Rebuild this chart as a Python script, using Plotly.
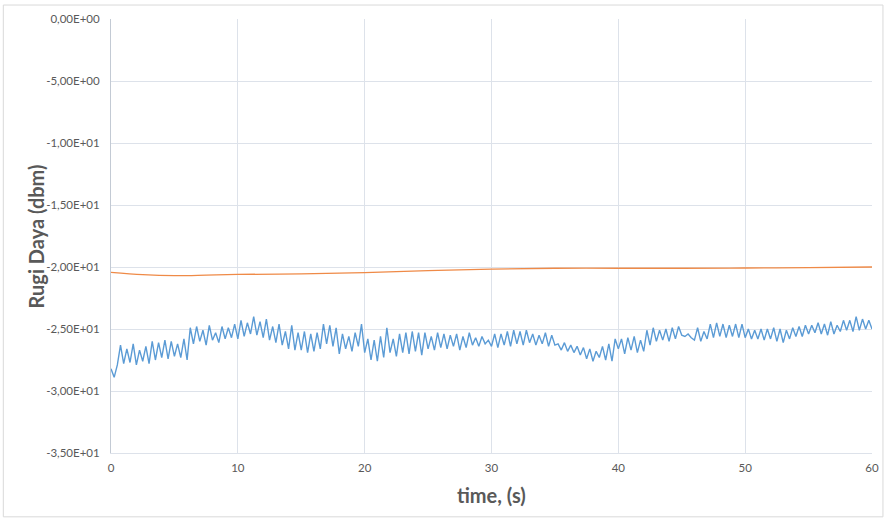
import plotly.graph_objects as go

# Time axis for the measured (blue) trace: 0.25 s steps from 0 to 60 s
blue_step = 0.25
blue_values = [
    # 0 - 5 s
    -28.2, -28.9, -27.9, -26.3, -27.8, -26.6, -27.7, -26.2, -27.9, -26.7,
    -27.6, -26.4, -27.8, -26.0, -27.5, -26.1, -27.3, -25.9, -27.4, -26.0,
    # 5 - 10 s
    -27.2, -26.2, -27.3, -25.8, -27.5, -24.9, -26.2, -24.8, -26.0, -25.1,
    -26.3, -24.7, -25.9, -25.3, -26.1, -24.8, -25.8, -24.9, -25.7, -24.6,
    # 10 - 15 s
    -25.8, -24.3, -25.6, -24.5, -25.4, -24.0, -25.5, -24.4, -25.7, -24.2,
    -25.9, -24.8, -26.1, -24.6, -26.3, -25.2, -26.6, -24.7, -26.7, -25.3,
    # 15 - 20 s
    -26.7, -25.2, -26.9, -25.4, -26.8, -25.3, -26.6, -24.6, -26.2, -24.7,
    -26.4, -24.9, -27.0, -25.4, -26.6, -25.6, -26.8, -25.3, -26.4, -24.6,
    # 20 - 25 s
    -26.9, -25.8, -27.5, -25.9, -27.6, -25.6, -27.3, -24.9, -26.9, -25.8,
    -27.2, -25.4, -26.9, -25.3, -27.0, -25.2, -26.8, -25.3, -27.1, -25.3,
    # 25 - 30 s
    -26.6, -25.6, -26.7, -25.3, -26.5, -25.4, -26.6, -25.5, -26.4, -25.4,
    -26.7, -25.6, -26.5, -25.3, -26.3, -25.7, -26.4, -25.6, -26.2, -25.9,
    # 30 - 35 s
    -26.4, -25.4, -26.5, -25.4, -26.3, -25.2, -26.4, -25.1, -26.2, -25.2,
    -26.3, -25.1, -26.1, -25.4, -26.3, -25.5, -26.2, -25.3, -26.4, -25.5,
    # 35 - 40 s
    -26.3, -26.2, -26.7, -26.1, -26.8, -26.3, -26.9, -26.4, -27.1, -26.5,
    -27.4, -26.6, -27.6, -26.8, -27.3, -26.4, -27.5, -26.2, -27.6, -25.8,
    # 40 - 45 s
    -26.6, -25.8, -27.0, -25.7, -26.7, -25.6, -26.9, -25.9, -26.8, -25.1,
    -26.3, -24.9, -26.0, -25.1, -25.9, -25.0, -26.0, -24.9, -25.8, -24.8,
    # 45 - 50 s
    -25.5, -25.6, -25.4, -25.7, -25.9, -24.9, -26.0, -25.2, -25.8, -24.6,
    -25.7, -24.5, -25.6, -24.6, -25.7, -24.7, -25.6, -24.6, -25.7, -24.6,
    # 50 - 55 s
    -25.7, -25.0, -25.8, -25.1, -25.8, -25.0, -25.9, -25.0, -25.8, -24.9,
    -26.0, -25.0, -26.1, -25.1, -25.8, -24.9, -25.6, -24.8, -25.6, -24.7,
    # 55 - 60 s
    -25.4, -24.7, -25.3, -24.5, -25.4, -24.6, -25.5, -24.4, -25.4, -24.7,
    -25.2, -24.3, -25.1, -24.3, -25.2, -24.0, -25.1, -24.2, -25.0, -24.3,
    # 60 s
    -25.0,
]
blue_time = [i * blue_step for i in range(len(blue_values))]

# Reference (orange) trace, sampled every 2.5 - 5 s
orange_time = [0, 2.5, 5, 7.5, 10, 15, 20, 25, 30, 35, 40, 45, 50, 55, 60]
orange_values = [-20.44, -20.62, -20.7, -20.66, -20.6, -20.55, -20.45, -20.3,
                 -20.17, -20.1, -20.1, -20.1, -20.08, -20.05, -20.0]

y_ticks = [0, -5, -10, -15, -20, -25, -30, -35]
y_tick_labels = ["0,00E+00", "-5,00E+00", "-1,00E+01", "-1,50E+01",
                 "-2,00E+01", "-2,50E+01", "-3,00E+01", "-3,50E+01"]
x_ticks = [0, 10, 20, 30, 40, 50, 60]

FONT = "Lato, 'Open Sans', sans-serif"
TEXT = "#595959"
GRID = "#dde2ea"

fig = go.Figure()
fig.add_trace(go.Scatter(x=orange_time, y=orange_values, mode="lines",
                         line=dict(color="#ef8a47", width=1.3, shape="spline"),
                         showlegend=False))
fig.add_trace(go.Scatter(x=blue_time, y=blue_values, mode="lines",
                         line=dict(color="#5b9bd5", width=1.4),
                         showlegend=False))

fig.update_layout(
    width=891, height=521,
    margin=dict(l=111, r=17, t=18, b=68),
    paper_bgcolor="white", plot_bgcolor="white",
    font=dict(family=FONT, color=TEXT, size=11.5),
    xaxis=dict(range=[0, 60], tickvals=x_ticks, showgrid=True, gridcolor=GRID,
               gridwidth=1, zeroline=False, showline=True, linecolor=GRID,
               ticks="", tickfont=dict(size=11.5, color=TEXT), ticklabelstandoff=4),
    yaxis=dict(range=[-35, 0], tickvals=y_ticks, ticktext=y_tick_labels,
               showgrid=True, gridcolor=GRID, gridwidth=1, zeroline=False,
               showline=True, linecolor="#c3cad4", ticks="",
               tickfont=dict(size=11.5, color=TEXT), ticklabelstandoff=8),
    annotations=[
        dict(text="<b>time, (s)</b>", xref="paper", yref="paper",
             x=0.5, y=-0.0966, xanchor="center", yanchor="middle", showarrow=False,
             font=dict(family=FONT, size=20, color=TEXT)),
        dict(text="<b>Rugi Daya (dbm)</b>", xref="paper", yref="paper",
             x=-0.098, y=0.5, xanchor="center", yanchor="middle", textangle=-90,
             showarrow=False, font=dict(family=FONT, size=20, color=TEXT)),
    ],
    shapes=[
        dict(type="rect", xref="paper", yref="paper",
             x0=-0.1415, x1=1.0144, y0=-0.1471, y1=1.0322,
             line=dict(color="#d9d9d9", width=1), fillcolor="rgba(0,0,0,0)",
             layer="below"),
    ],
)

fig.write_html("out.html")
